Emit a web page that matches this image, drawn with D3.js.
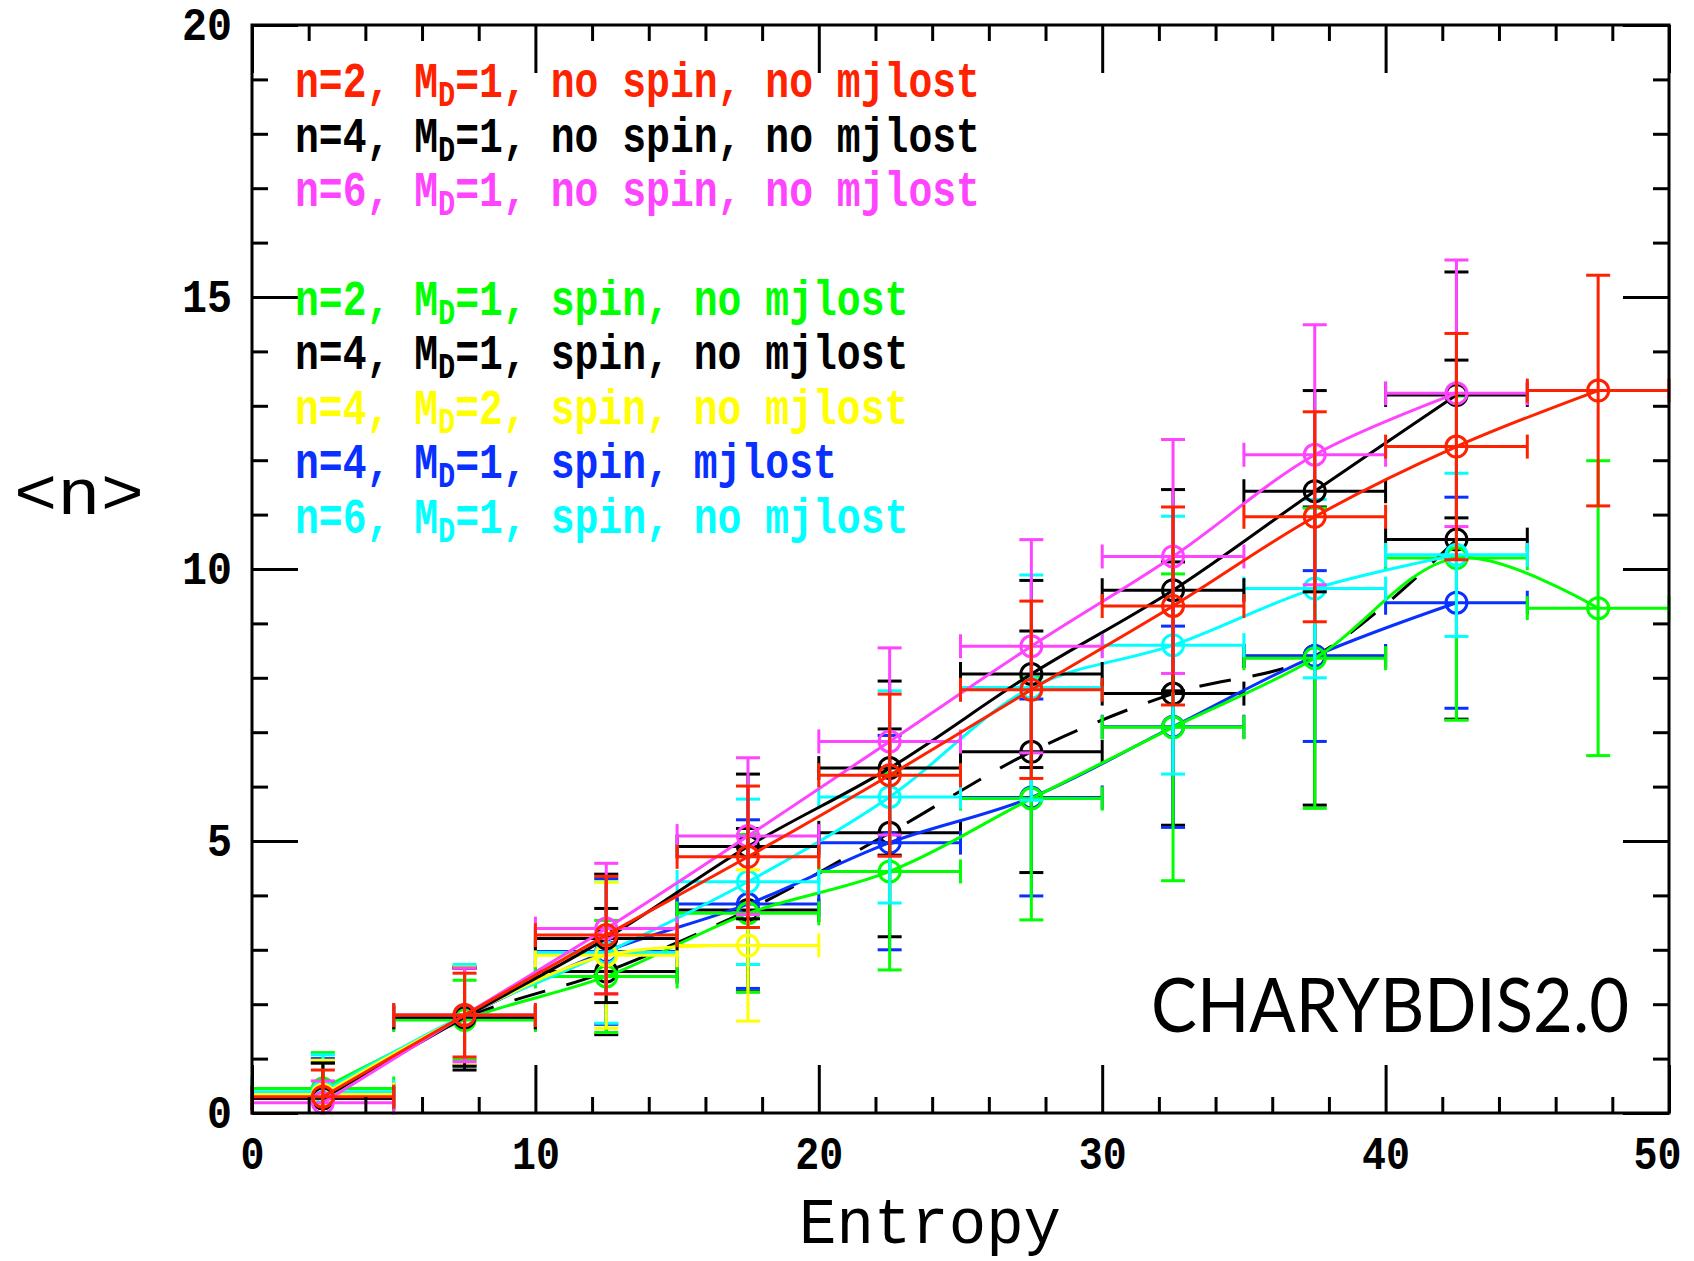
<!DOCTYPE html>
<html><head><meta charset="utf-8">
<script src="https://cdn.jsdelivr.net/npm/d3@7"></script>
<style>body{margin:0;background:#fff}svg{display:block}</style>
</head><body>
<svg id="chart" width="1694" height="1261"></svg>
<script>
// ---------- data ----------
const xBins = [2.5, 7.5, 12.5, 17.5, 22.5, 27.5, 32.5, 37.5, 42.5, 47.5];
const binHalfWidth = 2.5;
const xMajorTicks = [0, 10, 20, 30, 40, 50];
const yMajorTicks = [0, 5, 10, 15, 20];

const n2NoSpinMean = [0.30, 1.80, 3.27, 4.71, 6.21, 7.78, 9.32, 10.96, 12.25, 13.28];
const n2NoSpinErr  = [0.49, 0.77, 1.08, 1.30, 1.49, 1.63, 1.82, 1.93, 2.08, 2.12];
const n4NoSpinMean = [0.27, 1.76, 3.21, 4.90, 6.34, 8.07, 9.61, 11.43, 13.20];
const n4NoSpinErr  = [0.65, 0.90, 1.18, 1.33, 1.60, 1.72, 1.85, 1.85, 2.26];
const n6NoSpinMean = [0.19, 1.80, 3.39, 5.09, 6.83, 8.58, 10.23, 12.10, 13.23];
const n6NoSpinErr  = [0.40, 0.86, 1.20, 1.44, 1.72, 1.96, 2.15, 2.39, 2.45];
const n2SpinMean   = [0.45, 1.71, 2.51, 3.67, 4.44, 5.78, 7.09, 8.36, 10.20, 9.28];
const n2SpinErr    = [0.66, 0.73, 1.03, 1.45, 1.81, 2.23, 2.82, 2.76, 2.98, 2.71];
const n4SpinMean   = [0.27, 1.74, 2.60, 3.73, 5.15, 6.64, 7.71, 8.40, 10.54];
const n4SpinErr    = [0.65, 0.95, 1.16, 1.50, 1.91, 2.22, 2.42, 2.74, 3.30];
const n4Md2SpinMean = [0.34, 1.78, 2.90, 3.08];
const n4Md2SpinErr  = [0.63, 0.90, 1.34, 1.39];
const n4MjlostMean = [0.35, 1.77, 2.97, 3.84, 4.97, 5.80, 7.10, 8.40, 9.38];
const n4MjlostErr  = [0.65, 0.90, 1.34, 1.55, 1.97, 1.81, 1.85, 1.57, 1.94];
const n6SpinMean   = [0.39, 1.80, 2.95, 4.25, 5.81, 7.82, 8.60, 9.64, 10.26];
const n6SpinErr    = [0.68, 0.93, 1.30, 1.52, 1.95, 2.07, 2.37, 1.64, 1.50];

const legendLabels = [
  ["n=2, M", "D", "=1, no spin, no mjlost"],
  ["n=4, M", "D", "=1, no spin, no mjlost"],
  ["n=6, M", "D", "=1, no spin, no mjlost"],
  ["n=2, M", "D", "=1, spin, no mjlost"],
  ["n=4, M", "D", "=1, spin, no mjlost"],
  ["n=4, M", "D", "=2, spin, no mjlost"],
  ["n=4, M", "D", "=1, spin, mjlost"],
  ["n=6, M", "D", "=1, spin, no mjlost"]
];
const xLabel = "Entropy";
const yLabel = "<n>";
const tagText = "CHARYBDIS2.0";

// ---------- series (legend order) ----------
const series = [
  {means: n2NoSpinMean, errs: n2NoSpinErr, color: "#ff2200", dash: null, z: 7},
  {means: n4NoSpinMean, errs: n4NoSpinErr, color: "#000000", dash: null, z: 5},
  {means: n6NoSpinMean, errs: n6NoSpinErr, color: "#ff44ff", dash: null, z: 6},
  {means: n2SpinMean,   errs: n2SpinErr,   color: "#00ff00", dash: null, z: 2},
  {means: n4SpinMean,   errs: n4SpinErr,   color: "#000000", dash: "32,22", z: 0},
  {means: n4Md2SpinMean, errs: n4Md2SpinErr, color: "#ffff00", dash: null, z: 4},
  {means: n4MjlostMean, errs: n4MjlostErr, color: "#0a30ff", dash: null, z: 1},
  {means: n6SpinMean,   errs: n6SpinErr,   color: "#00ffff", dash: null, z: 3}
];
series.forEach((s, i) => { s.label = legendLabels[i]; s.pts = s.means.map((m, j) => ({x: xBins[j], y: m, e: s.errs[j]})); });

// ---------- layout ----------
const L = 252, R = 1669, T = 25, B = 1113;
const x = d3.scaleLinear().domain([0, 50]).range([L, R]);
const y = d3.scaleLinear().domain([0, 20]).range([B, T]);
const svg = d3.select("#chart");
const FONT = "'Liberation Mono', 'Courier New', monospace";

// ---------- data marks ----------
const line = d3.line().x(d => x(d.x)).y(d => y(d.y)).curve(d3.curveCatmullRom.alpha(0.5));
const cap = 12, lw = 3;
const drawOrder = series.slice().sort((a, b) => a.z - b.z);
const dataG = svg.append("g");
drawOrder.forEach(s => {
  const g = dataG.append("g").attr("stroke", s.color).attr("fill", "none").attr("stroke-width", lw);
  g.append("path").datum(s.pts).attr("d", line).attr("stroke-dasharray", s.dash);
  // horizontal bars
  g.selectAll(".h").data(s.pts).join("line")
    .attr("x1", d => x(d.x - binHalfWidth)).attr("x2", d => x(d.x + binHalfWidth))
    .attr("y1", d => y(d.y)).attr("y2", d => y(d.y));
  g.selectAll(".hc").data(s.pts.flatMap(d => [{x: d.x - binHalfWidth, y: d.y}, {x: d.x + binHalfWidth, y: d.y}])).join("line")
    .attr("x1", d => x(d.x)).attr("x2", d => x(d.x))
    .attr("y1", d => y(d.y) - cap).attr("y2", d => y(d.y) + cap);
  // vertical bars
  g.selectAll(".v").data(s.pts).join("line")
    .attr("x1", d => x(d.x)).attr("x2", d => x(d.x))
    .attr("y1", d => y(Math.max(0, d.y - d.e))).attr("y2", d => y(d.y + d.e));
  const vc = s.pts.flatMap(d => {
    const arr = [{x: d.x, y: d.y + d.e}];
    if (d.y - d.e > 0) arr.push({x: d.x, y: d.y - d.e});
    return arr;
  });
  g.selectAll(".vc").data(vc).join("line")
    .attr("x1", d => x(d.x) - cap).attr("x2", d => x(d.x) + cap)
    .attr("y1", d => y(d.y)).attr("y2", d => y(d.y));
  g.selectAll("circle").data(s.pts).join("circle")
    .attr("cx", d => x(d.x)).attr("cy", d => y(d.y)).attr("r", 10.5);
});

// ---------- axes ----------
function styleAxis(g) {
  g.select(".domain").remove();
  g.selectAll(".tick line").attr("stroke", "#000").attr("stroke-width", 3);
}
const xMinor = d3.range(0, 51, 2).filter(v => v % 10 !== 0);
const yMinor = d3.range(0, 21, 1).filter(v => v % 5 !== 0);

// bottom
const bx = svg.append("g").attr("transform", `translate(0,${B})`)
  .call(d3.axisBottom(x).tickValues(xMajorTicks).tickSize(-48).tickPadding(0).tickFormat(d3.format("d")));
styleAxis(bx);
bx.selectAll("text").attr("y", 56).attr("dy", 0)
  .attr("x", d => d === 50 ? -12 : 0)
  .attr("font-family", FONT).attr("font-weight", "bold").attr("font-size", 46).attr("fill", "#000")
  .attr("textLength", d => String(d).length * 24).attr("lengthAdjust", "spacingAndGlyphs");
styleAxis(svg.append("g").attr("transform", `translate(0,${B})`)
  .call(d3.axisBottom(x).tickValues(xMinor).tickSize(-16).tickFormat("")));
// top
styleAxis(svg.append("g").attr("transform", `translate(0,${T})`)
  .call(d3.axisTop(x).tickValues(xMajorTicks).tickSize(-48).tickFormat("")));
styleAxis(svg.append("g").attr("transform", `translate(0,${T})`)
  .call(d3.axisTop(x).tickValues(xMinor).tickSize(-16).tickFormat("")));
// left
const ly = svg.append("g").attr("transform", `translate(${L},0)`)
  .call(d3.axisLeft(y).tickValues(yMajorTicks).tickSize(-46).tickPadding(0).tickFormat(d3.format("d")));
styleAxis(ly);
ly.selectAll("text").attr("x", -20).attr("dy", 14)
  .attr("font-family", FONT).attr("font-weight", "bold").attr("font-size", 46).attr("fill", "#000")
  .attr("textLength", d => String(d).length * 25).attr("lengthAdjust", "spacingAndGlyphs");
styleAxis(svg.append("g").attr("transform", `translate(${L},0)`)
  .call(d3.axisLeft(y).tickValues(yMinor).tickSize(-16).tickFormat("")));
// right
styleAxis(svg.append("g").attr("transform", `translate(${R},0)`)
  .call(d3.axisRight(y).tickValues(yMajorTicks).tickSize(-46).tickFormat("")));
styleAxis(svg.append("g").attr("transform", `translate(${R},0)`)
  .call(d3.axisRight(y).tickValues(yMinor).tickSize(-16).tickFormat("")));

// frame
svg.append("rect").attr("x", L).attr("y", T).attr("width", R - L).attr("height", B - T)
  .attr("fill", "none").attr("stroke", "#000").attr("stroke-width", 3);

// ---------- legend ----------
series.forEach((s, i) => {
  const rowVal = i < 3 ? 19 - i : 18 - i;
  const t = svg.append("text")
    .attr("transform", `translate(295,${y(rowVal) + 18}) scale(0.795,1)`)
    .attr("font-family", FONT).attr("font-weight", "bold").attr("font-size", 50).attr("fill", s.color);
  t.append("tspan").text(s.label[0]);
  t.append("tspan").attr("font-size", 36).attr("dy", 9).text(s.label[1]);
  t.append("tspan").attr("dy", -9).text(s.label[2]);
});

// ---------- titles ----------
svg.append("text").attr("x", 799).attr("y", 1243)
  .attr("font-family", FONT).attr("font-size", 64).attr("fill", "#000")
  .attr("textLength", 262).attr("lengthAdjust", "spacingAndGlyphs").text(xLabel);
svg.append("text").attr("x", 14).attr("y", 514)
  .attr("font-family", FONT).attr("font-size", 64).attr("fill", "#000")
  .attr("textLength", 130).attr("lengthAdjust", "spacingAndGlyphs").text(yLabel);
svg.append("text").attr("x", 1151).attr("y", 1032)
  .attr("font-family", "Lato, 'Open Sans', sans-serif").attr("font-size", 75).attr("fill", "#000")
  .attr("textLength", 478).attr("lengthAdjust", "spacingAndGlyphs").text(tagText);
</script>
</body></html>
